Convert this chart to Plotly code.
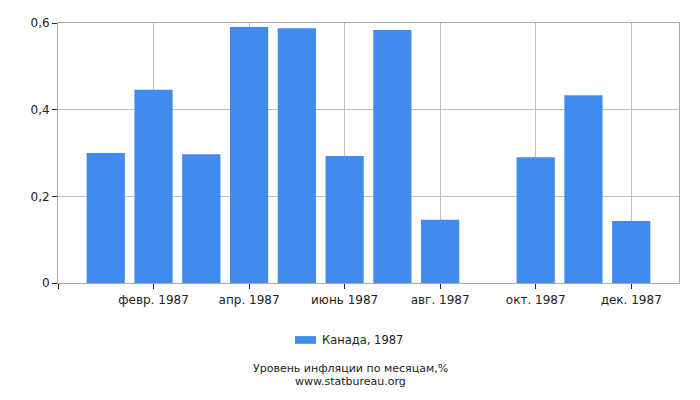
import plotly.graph_objects as go

months = list(range(1, 13))
values = [0.30, 0.446, 0.297, 0.591, 0.588, 0.293, 0.584, 0.146, 0.0, 0.290, 0.433, 0.143]
tick_vals = [0, 2, 4, 6, 8, 10, 12]
tick_text = ["", "февр. 1987", "апр. 1987", "июнь 1987", "авг. 1987", "окт. 1987", "дек. 1987"]
y_ticks = [0, 0.2, 0.4, 0.6]
y_text = ["0", "0,2", "0,4", "0,6"]
series_name = "Канада, 1987"
title_line1 = "Уровень инфляции по месяцам,%"
title_line2 = "www.statbureau.org"

BAR = "#418BEE"
FONT = "DejaVu Sans"

fig = go.Figure()
fig.add_trace(go.Bar(x=months, y=values, name=series_name, marker_color=BAR,
                     marker_line_width=0, width=0.8, showlegend=False))

OFF = 8  # page body offset
W, H = 700 - OFF, 400 - OFF
TOP = 16
L, R, T, B = 58 - OFF, 700 - 679, TOP - OFF, 400 - 283
pw = W - L - R
ph = H - T - B

def px(x):
    return (x - OFF - L) / pw

def py(y):
    return (H - B - (y - OFF)) / ph

fig.update_layout(
    width=W, height=H,
    margin=dict(l=L, r=R, t=T, b=B),
    paper_bgcolor="white", plot_bgcolor="white",
    font=dict(family=FONT, size=11, color="#222"),
    xaxis=dict(range=[0, 13], tickvals=tick_vals, ticktext=tick_text,
               showgrid=True, gridcolor="#c0c0c0", gridwidth=1,
               ticks="outside", ticklen=5, tickcolor="#222",
               showline=True, linecolor="#aaaaaa", mirror=True, zeroline=False,
               tickfont=dict(size=12), ticklabelstandoff=1),
    yaxis=dict(range=[0, 0.6], tickvals=y_ticks, ticktext=y_text,
               showgrid=True, gridcolor="#c0c0c0", gridwidth=1,
               ticks="outside", ticklen=5, tickcolor="#222",
               showline=True, linecolor="#aaaaaa", mirror=True, zeroline=False,
               tickfont=dict(size=12)),
    bargap=0.2,
    shapes=[dict(type="rect", xref="paper", yref="paper",
                 x0=px(295), x1=px(316), y0=py(345.5), y1=py(337.5),
                 fillcolor=BAR, line=dict(width=0))],
    annotations=[
        dict(text=series_name, xref="paper", yref="paper", x=px(320), y=py(341.5),
             xanchor="left", yanchor="middle", showarrow=False, font=dict(size=11.5, color="#222")),
        dict(text=title_line1, xref="paper", yref="paper", x=px(350), y=py(371.3),
             xanchor="center", yanchor="middle", showarrow=False, font=dict(size=11, color="#222")),
        dict(text=title_line2, xref="paper", yref="paper", x=px(350), y=py(384),
             xanchor="center", yanchor="middle", showarrow=False, font=dict(size=11, color="#222")),
    ],
)

fig.write_html("out.html")
